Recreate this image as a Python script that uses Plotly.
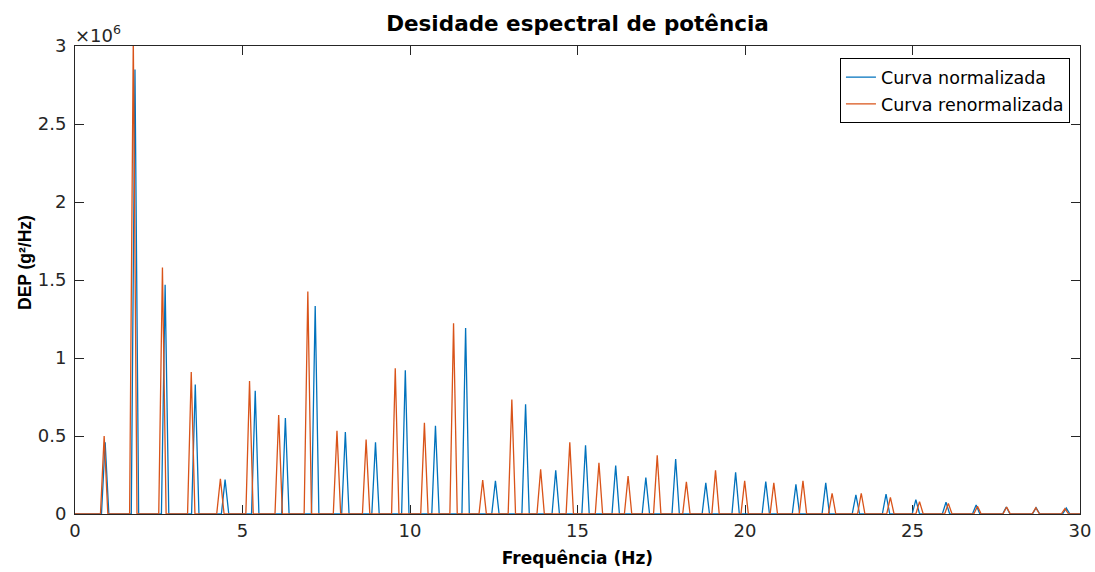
import plotly.graph_objects as go

# ---- data ----
freq_norm = [0.90, 1.79, 2.69, 3.59, 4.48, 5.38, 6.28, 7.17, 8.07, 8.97, 9.86,
             10.76, 11.66, 12.55, 13.45, 14.35, 15.24, 16.14, 17.04, 17.93, 18.83,
             19.72, 20.62, 21.52, 22.41, 23.31, 24.21, 25.10, 26.00, 26.90, 27.80,
             28.69, 29.59]
dep_norm = [0.46e6, 2.85e6, 1.47e6, 0.83e6, 0.22e6, 0.79e6, 0.616e6, 1.333e6, 0.525e6,
            0.459e6, 0.921e6, 0.565e6, 1.192e6, 0.213e6, 0.704e6, 0.28e6, 0.44e6,
            0.31e6, 0.234e6, 0.353e6, 0.20e6, 0.268e6, 0.208e6, 0.19e6, 0.20e6,
            0.123e6, 0.128e6, 0.092e6, 0.075e6, 0.058e6, 0.045e6, 0.040e6, 0.038e6]

freq_renorm = [0.87, 1.74, 2.61, 3.47, 4.34, 5.21, 6.08, 6.95, 7.82, 8.69, 9.56,
               10.43, 11.30, 12.17, 13.04, 13.90, 14.77, 15.64, 16.51, 17.38, 18.25,
               19.12, 19.99, 20.86, 21.73, 22.60, 23.47, 24.34, 25.21, 26.07, 26.94,
               27.81, 28.68, 29.55]
dep_renorm = [0.50e6, 3.05e6, 1.58e6, 0.91e6, 0.226e6, 0.853e6, 0.635e6, 1.427e6, 0.533e6,
              0.478e6, 0.934e6, 0.584e6, 1.222e6, 0.218e6, 0.734e6, 0.286e6, 0.459e6,
              0.328e6, 0.244e6, 0.376e6, 0.206e6, 0.28e6, 0.212e6, 0.20e6, 0.212e6,
              0.133e6, 0.133e6, 0.106e6, 0.079e6, 0.068e6, 0.050e6, 0.045e6, 0.040e6,
              0.035e6]

x_ticks = [0, 5, 10, 15, 20, 25, 30]
y_ticks = [0, 0.5e6, 1.0e6, 1.5e6, 2.0e6, 2.5e6, 3.0e6]
y_tick_labels = ["0", "0.5", "1", "1.5", "2", "2.5", "3"]

HALF_WIDTH = 0.11  # spectral line half base width (Hz)


def spectrum(freqs, vals, fmin=0, fmax=30):
    xs, ys = [fmin], [0]
    for f, v in zip(freqs, vals):
        xs += [f - HALF_WIDTH, f, f + HALF_WIDTH]
        ys += [0, v, 0]
    xs.append(fmax)
    ys.append(0)
    return xs, ys


xn, yn = spectrum(freq_norm, dep_norm)
xr, yr = spectrum(freq_renorm, dep_renorm)

fig = go.Figure()
fig.add_trace(go.Scatter(x=xn, y=yn, mode="lines", name="Curva normalizada",
                         line=dict(color="#0072BD", width=1.3), legendgroup="a"))
fig.add_trace(go.Scatter(x=xr, y=yr, mode="lines", name="Curva renormalizada",
                         line=dict(color="#D95319", width=1.3), legendgroup="b"))

axis_col = "#262626"
tickfont = dict(family="DejaVu Sans", size=18, color=axis_col)

fig.update_layout(
    width=1095, height=572,
    margin=dict(l=75, r=15, t=46, b=58, autoexpand=False),
    paper_bgcolor="white", plot_bgcolor="white",
    title=dict(text="<b>Desidade espectral de potência</b>",
               font=dict(family="DejaVu Sans", size=21.5, color="black"),
               x=(75 + 1080) / 2 / 1095, xanchor="center",
               y=1 - 23 / 572, yanchor="middle", yref="container"),
    legend=dict(x=0.99, y=0.974, xanchor="right", yanchor="top",
                bordercolor="black", borderwidth=1, bgcolor="white",
                font=dict(family="DejaVu Sans", size=17.5, color="black"),
                tracegroupgap=1, traceorder="grouped"),
    showlegend=True,
)

fig.update_xaxes(range=[0, 30], tickvals=x_ticks, ticks="inside", ticklen=9,
                 tickcolor=axis_col, showline=True, linecolor=axis_col, linewidth=1,
                 mirror="ticks", showgrid=False, zeroline=False, tickfont=tickfont,
                 layer="below traces", automargin=False,
                 title=dict(text="<b>Frequência (Hz)</b>", standoff=12,
                            font=dict(family="DejaVu Sans", size=17, color="black")))
fig.update_yaxes(range=[0, 3e6], tickvals=y_ticks, ticktext=y_tick_labels,
                 ticks="inside", ticklen=9, tickcolor=axis_col, showline=True,
                 linecolor=axis_col, linewidth=1, mirror="ticks", showgrid=False,
                 zeroline=False, tickfont=tickfont, ticklabelstandoff=4,
                 automargin=False)

# y-axis label (placed where the reference draws it)
fig.add_annotation(text="<b>DEP (g²/Hz)</b>", xref="paper", yref="paper",
                   x=0, y=(514 - 263) / 468, xanchor="center", yanchor="middle",
                   xshift=-50, textangle=-90, showarrow=False,
                   font=dict(family="Liberation Sans", size=17.5, color="black"))

fig.add_annotation(text="×10<sup>6</sup>", xref="paper", yref="paper",
                   x=0, y=1, xanchor="left", yanchor="bottom", showarrow=False,
                   xshift=-2, yshift=-2,
                   font=dict(family="DejaVu Sans", size=18, color=axis_col))

fig.write_html("out.html")
